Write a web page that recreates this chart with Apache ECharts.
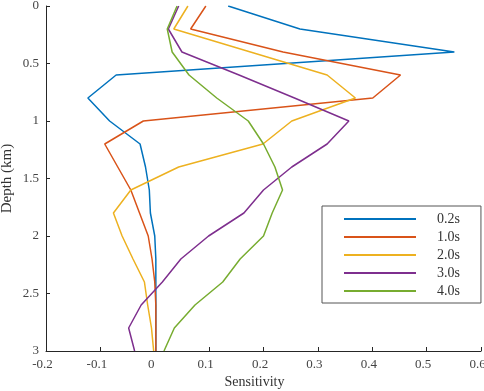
<!DOCTYPE html>
<html>
<head>
<meta charset="utf-8">
<script src="https://cdn.jsdelivr.net/npm/echarts@6/dist/echarts.min.js"></script>
<style>html,body{margin:0;padding:0;background:#fff}#c{width:484px;height:391px}</style>
</head>
<body>
<div id="c"></div>
<script>
var depths = [0, 0.2, 0.4, 0.6, 0.8, 1.0, 1.2, 1.4, 1.6, 1.8, 2.0, 2.2, 2.4, 2.6, 2.8, 3.0];
var seriesNames = ['0.2s', '1.0s', '2.0s', '3.0s', '4.0s'];
var s02 = [0.135, 0.267, 0.551, -0.071, -0.123, -0.083, -0.027, -0.017, -0.010, -0.008, 0.000, 0.002, 0.002, 0.002, 0.002, 0.002];
var s10 = [0.094, 0.066, 0.236, 0.452, 0.401, -0.021, -0.092, -0.068, -0.044, -0.028, -0.012, -0.005, 0.000, 0.002, 0.002, 0.002];
var s20 = [0.061, 0.035, 0.176, 0.317, 0.369, 0.252, 0.199, 0.044, -0.044, -0.076, -0.060, -0.040, -0.019, -0.013, -0.006, -0.002];
var s30 = [0.044, 0.025, 0.050, 0.155, 0.257, 0.357, 0.317, 0.252, 0.200, 0.164, 0.099, 0.048, 0.014, -0.025, -0.048, -0.037];
var s40 = [0.041, 0.023, 0.032, 0.063, 0.114, 0.172, 0.200, 0.221, 0.235, 0.216, 0.200, 0.157, 0.125, 0.074, 0.036, 0.017];
var xTicks = [-0.2, -0.1, 0, 0.1, 0.2, 0.3, 0.4, 0.5, 0.6];
var yTicks = [0, 0.5, 1, 1.5, 2, 2.5, 3];
var colors = ['#0072BD', '#D95319', '#EDB120', '#7E2F8E', '#77AC30'];
var allVals = [s02, s10, s20, s30, s40];

var font = 'Liberation Serif, Times New Roman, serif';
var chart = echarts.init(document.getElementById('c'), null, {renderer: 'canvas'});
var series = allVals.map(function (vals, i) {
  return {
    name: seriesNames[i],
    type: 'line',
    symbol: 'none',
    data: vals.map(function (v, k) { return [v, depths[k]]; }),
    lineStyle: {color: colors[i], width: 1.5},
    itemStyle: {color: colors[i]},
    animation: false
  };
});
chart.setOption({
  animation: false,
  grid: {left: 46, right: 3, top: 6, bottom: 40, containLabel: false, outerBoundsMode: 'none'},
  xAxis: {
    type: 'value', min: xTicks[0], max: xTicks[xTicks.length - 1], interval: 0.1,
    name: 'Sensitivity', nameLocation: 'middle', nameGap: 24, nameMoveOverlap: false,
    nameTextStyle: {fontFamily: font, fontSize: 14, color: '#333', padding: [0, 18, 0, 0]},
    axisLine: {onZero: false, lineStyle: {color: '#262626', width: 1}},
    axisTick: {inside: true, length: 4, lineStyle: {color: '#262626'}},
    axisLabel: {fontFamily: font, fontSize: 13, color: '#444', margin: 7, padding: [0, 7, 0, 0],
      formatter: function (v) { return String(Math.round(v * 10) / 10); }},
    splitLine: {show: false}
  },
  yAxis: {
    type: 'value', inverse: true, min: yTicks[0], max: yTicks[yTicks.length - 1], interval: 0.5,
    name: 'Depth (km)', nameLocation: 'middle', nameGap: 31, nameMoveOverlap: false,
    nameTextStyle: {fontFamily: font, fontSize: 15, color: '#333'},
    axisLine: {onZero: false, lineStyle: {color: '#262626', width: 1}},
    axisTick: {inside: true, length: 4, lineStyle: {color: '#262626'}},
    axisLabel: {fontFamily: font, fontSize: 13, color: '#444', margin: 7},
    splitLine: {show: false}
  },
  legend: {
    orient: 'vertical', left: 322, top: 206,
    data: seriesNames,
    itemWidth: 72, itemHeight: 13, itemGap: 4,
    padding: [6, 21, 5, 21],
    borderColor: '#555', borderWidth: 1,
    itemStyle: {opacity: 0},
    lineStyle: {width: 2},
    textStyle: {fontFamily: font, fontSize: 14, color: '#333', padding: [0, 0, 0, 16]}
  },
  series: series
});
</script>
</body>
</html>
